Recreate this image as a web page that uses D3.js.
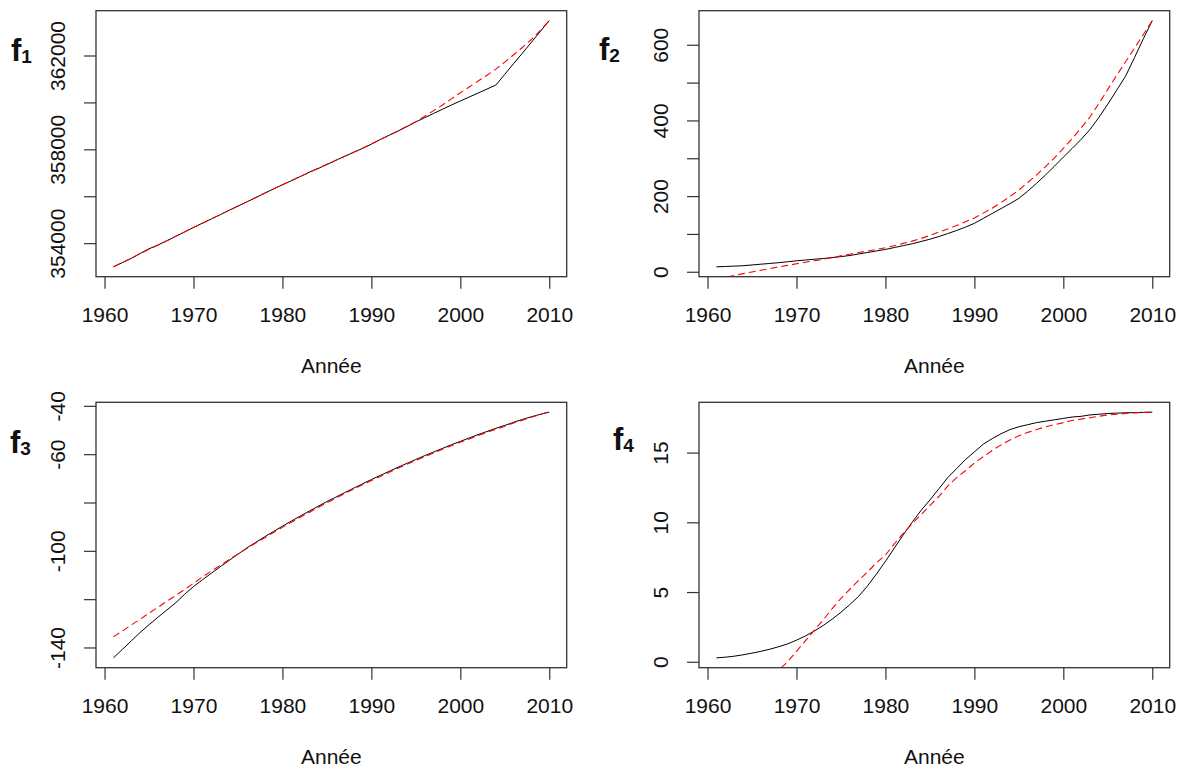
<!DOCTYPE html>
<html>
<head>
<meta charset="utf-8">
<script src="https://cdn.jsdelivr.net/npm/d3@7/dist/d3.min.js"></script>
<style>
  body { margin: 0; background: white; }
  svg text { font-family: "Liberation Sans", Arial, sans-serif; fill: #111; }
</style>
</head>
<body>
<svg id="chart" width="1183" height="767"></svg>
<script>

// years of observation
var years = d3.range(1961, 2011);

// f1 : observed (black) and fitted (red dashed)
var f1_obs = [352990, 353170, 353350, 353560, 353760, 353920, 354100, 354290, 354480, 354670,
              354850, 355030, 355210, 355400, 355580, 355760, 355940, 356130, 356310, 356490,
              356660, 356840, 357020, 357180, 357350, 357530, 357700, 357870, 358040, 358220,
              358420, 358600, 358780, 358970, 359170, 359350, 359530, 359710, 359890, 360060,
              360230, 360400, 360570, 360740, 361200, 361660, 362110, 362570, 363030, 363490];
var f1_fit = [352990, 353170, 353360, 353550, 353740, 353920, 354100, 354290, 354480, 354670,
              354850, 355030, 355220, 355400, 355580, 355760, 355950, 356130, 356310, 356490,
              356670, 356840, 357020, 357190, 357360, 357530, 357700, 357880, 358050, 358230,
              358410, 358600, 358790, 358980, 359180, 359410, 359650, 359890, 360150, 360410,
              360660, 360910, 361160, 361420, 361720, 362030, 362350, 362690, 363070, 363490];

// f2
var f2_obs = [13, 14, 15, 16, 18, 20, 22, 24, 26.5, 29,
              31, 33, 35, 37.5, 40, 43, 47, 51, 55, 59,
              64, 69, 74, 80, 86, 93, 101, 109, 118, 128,
              141, 154, 167, 180, 194, 213, 234, 256, 279, 303,
              326, 350, 376, 408, 443, 480, 517, 566, 616, 664];
var f2_fit = [-20, -15, -10, -5, -0.5, 4, 8.5, 13, 17, 21,
              25, 29, 33, 37.5, 42, 46.5, 51, 55, 59, 63.5,
              69, 75, 81, 88, 96, 105, 113, 122, 132, 142,
              155, 168, 183, 199, 216, 236, 256, 278, 301, 326,
              352, 380, 409, 445, 482, 519, 555, 591, 627, 664];

// f3
var f3_obs = [-144.3, -140.8, -137.3, -133.8, -130.6, -127.5, -124.5, -121.5, -118.0, -114.8,
              -112.0, -109.3, -106.6, -104.0, -101.4, -98.8, -96.5, -94.2, -92.0, -89.8,
              -87.7, -85.6, -83.6, -81.6, -79.6, -77.8, -75.9, -74.1, -72.3, -70.5,
              -68.8, -67.1, -65.4, -63.8, -62.2, -60.6, -59.1, -57.6, -56.1, -54.7,
              -53.3, -51.9, -50.6, -49.3, -48.1, -46.8, -45.6, -44.5, -43.5, -42.6];
var f3_fit = [-135.6, -133.2, -130.7, -128.3, -125.8, -123.4, -120.9, -118.5, -116.0, -113.5,
              -110.8, -108.4, -106.0, -103.6, -101.3, -99.0, -96.8, -94.6, -92.4, -90.3,
              -88.2, -86.1, -84.1, -82.1, -80.1, -78.2, -76.3, -74.5, -72.7, -70.9,
              -69.2, -67.5, -65.8, -64.2, -62.6, -61.0, -59.5, -58.0, -56.5, -55.1,
              -53.7, -52.3, -51.0, -49.7, -48.4, -47.1, -45.9, -44.7, -43.5, -42.4];

// f4
var f4_obs = [0.28, 0.33, 0.4, 0.5, 0.62, 0.75, 0.9, 1.08, 1.28, 1.55,
              1.85, 2.2, 2.6, 3.05, 3.55, 4.1, 4.7, 5.45, 6.3, 7.2,
              8.15, 9.1, 10.0, 10.85, 11.6, 12.4, 13.2, 13.85, 14.5, 15.05,
              15.6, 16.0, 16.35, 16.65, 16.85, 17.0, 17.15, 17.25, 17.35, 17.45,
              17.55, 17.6, 17.7, 17.75, 17.8, 17.83, 17.85, 17.87, 17.88, 17.9];
var f4_fit = [-5.8, -5.0, -4.2, -3.4, -2.6, -1.9, -1.2, -0.6, 0.0, 0.75,
              1.5, 2.25, 3.0, 3.8, 4.55, 5.2, 5.85, 6.45, 7.1, 7.65,
              8.45, 9.2, 9.9, 10.55, 11.2, 11.85, 12.6, 13.2, 13.7, 14.25,
              14.7, 15.15, 15.55, 15.9, 16.2, 16.45, 16.65, 16.85, 17.0, 17.15,
              17.3, 17.4, 17.5, 17.6, 17.7, 17.75, 17.8, 17.85, 17.88, 17.9];

// ticks
var x_ticks = [1960, 1970, 1980, 1990, 2000, 2010];
var f1_ticks = [354000, 356000, 358000, 360000, 362000];
var f1_labels = ['354000', '', '358000', '', '362000'];
var f2_ticks = [0, 100, 200, 300, 400, 500, 600];
var f2_labels = ['0', '', '200', '', '400', '', '600'];
var f3_ticks = [-140, -120, -100, -80, -60, -40];
var f3_labels = ['-140', '', '-100', '', '-60', '-40'];
var f4_ticks = [0, 5, 10, 15];
var f4_labels = ['0', '5', '10', '15'];

var x_title = 'Année';

var svg = d3.select('#chart');

// R style range: data extent plus 4% each side
function r_pad(values) {
    var ext = d3.extent(values);
    var d = (ext[1] - ext[0]) * 0.04;
    return [ext[0] - d, ext[1] + d];
}

function draw_panel({id, left, top, width, height, obs, fit, yticks, ylabels, name, name_x, name_y}) {

    var x = d3.scaleLinear().domain(r_pad(years)).range([left, left + width]);
    var y = d3.scaleLinear().domain(r_pad(obs)).range([top + height, top]);

    svg.append('clipPath')
        .attr('id', 'clip' + id)
        .append('rect')
        .attr('x', left)
        .attr('y', top)
        .attr('width', width)
        .attr('height', height);

    // x axis
    var xa = svg.append('g')
        .attr('transform', 'translate(0,' + (top + height) + ')')
        .call(d3.axisBottom(x).tickValues(x_ticks).tickFormat(d3.format('d')).tickSize(12).tickSizeOuter(0));
    xa.select('.domain').remove();
    xa.selectAll('line').attr('stroke', '#333').attr('stroke-width', 1.2);
    xa.selectAll('text')
        .attr('y', 45.5)
        .attr('dy', null)
        .style('font-size', '21px')
        .attr('fill', '#111');

    // y axis
    var ya = svg.append('g')
        .attr('transform', 'translate(' + left + ',0)')
        .call(d3.axisLeft(y).tickValues(yticks)
            .tickFormat(function(d, i) { return ylabels[i]; })
            .tickSize(12).tickSizeOuter(0));
    ya.select('.domain').remove();
    ya.selectAll('line').attr('stroke', '#333').attr('stroke-width', 1.2);
    ya.selectAll('text')
        .attr('transform', 'rotate(-90)')
        .attr('x', 0)
        .attr('y', -31)
        .attr('dy', null)
        .style('text-anchor', 'middle')
        .style('font-size', '21px')
        .attr('fill', '#111');

    var line = d3.line()
        .x(function(d, i) { return x(years[i]); })
        .y(function(d) { return y(d); });

    var plot = svg.append('g').attr('clip-path', 'url(#clip' + id + ')');

    plot.append('path')
        .datum(obs)
        .attr('d', line)
        .attr('fill', 'none')
        .attr('stroke', '#000')
        .attr('stroke-width', 1);

    plot.append('path')
        .datum(fit)
        .attr('d', line)
        .attr('fill', 'none')
        .attr('stroke', '#ff0000')
        .attr('stroke-width', 1.1)
        .attr('stroke-dasharray', '7,4');

    // box
    svg.append('rect')
        .attr('x', left)
        .attr('y', top)
        .attr('width', width)
        .attr('height', height)
        .attr('fill', 'none')
        .attr('stroke', '#333')
        .attr('stroke-width', 1.3);

    // x title
    svg.append('text')
        .attr('x', left + width / 2)
        .attr('y', top + height + 96)
        .style('text-anchor', 'middle')
        .style('font-size', '21px')
        .text(x_title);

    // panel name f with subscript
    var t = svg.append('text')
        .attr('x', name_x)
        .attr('y', name_y)
        .style('font-family', '"Liberation Sans", Arial, sans-serif')
        .style('font-weight', 'bold')
        .style('font-size', '31px');
    t.append('tspan').text('f');
    t.append('tspan')
        .attr('dy', 2)
        .style('font-size', '19px')
        .text(name);
}

draw_panel({id: 1, left: 96, top: 10.7, width: 470.7, height: 266,
            obs: f1_obs, fit: f1_fit, yticks: f1_ticks, ylabels: f1_labels,
            name: '1', name_x: 11, name_y: 61});
draw_panel({id: 2, left: 699, top: 10.7, width: 470.7, height: 266,
            obs: f2_obs, fit: f2_fit, yticks: f2_ticks, ylabels: f2_labels,
            name: '2', name_x: 599, name_y: 60});
draw_panel({id: 3, left: 96, top: 402.3, width: 470.7, height: 265.4,
            obs: f3_obs, fit: f3_fit, yticks: f3_ticks, ylabels: f3_labels,
            name: '3', name_x: 10, name_y: 453});
draw_panel({id: 4, left: 699, top: 402.3, width: 470.7, height: 265.4,
            obs: f4_obs, fit: f4_fit, yticks: f4_ticks, ylabels: f4_labels,
            name: '4', name_x: 613, name_y: 450});

</script>
</body>
</html>
